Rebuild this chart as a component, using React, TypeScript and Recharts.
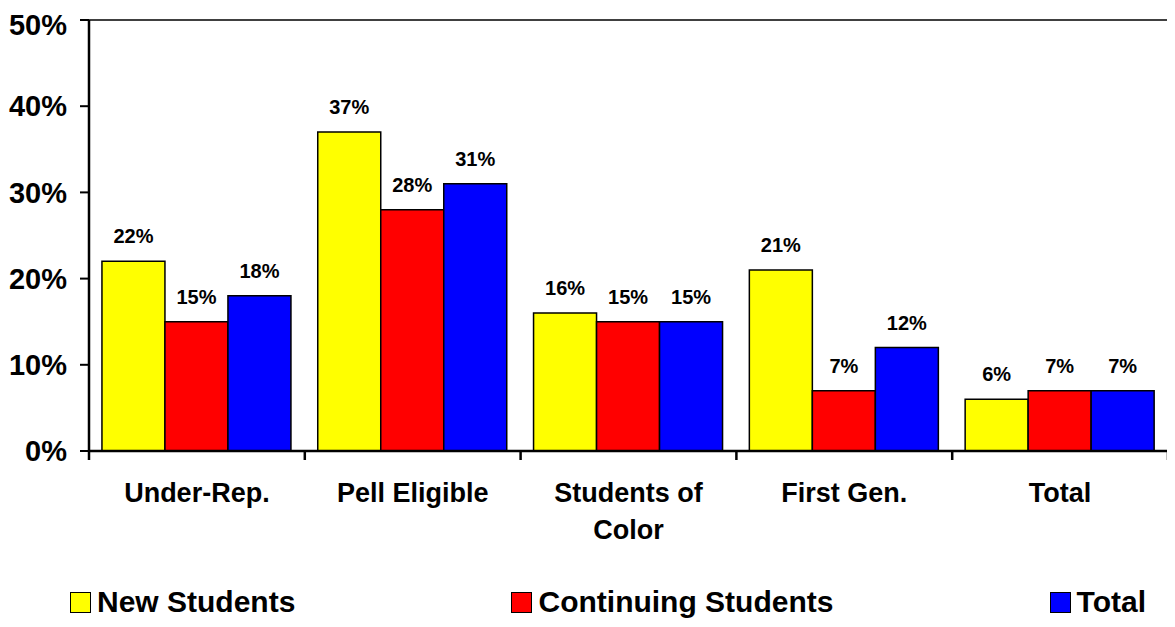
import React from "react";
import { Bar, BarChart, CartesianGrid, LabelList, XAxis, YAxis } from "recharts";

const categories = ["Under-Rep.", "Pell Eligible", "Students of Color", "First Gen.", "Total"];
const newStudents = [22, 37, 16, 21, 6];
const continuingStudents = [15, 28, 15, 7, 7];
const totalStudents = [18, 31, 15, 12, 7];
const yTicks = [0, 10, 20, 30, 40, 50];

const seriesNames = ["New Students", "Continuing Students", "Total"];
const seriesColors = ["#ffff00", "#ff0000", "#0000ff"];

const data = categories.map((name, i) => ({
  name,
  newS: newStudents[i],
  cont: continuingStudents[i],
  tot: totalStudents[i],
}));

const FONT = "'Liberation Sans', Arial, Helvetica, sans-serif";

function wrap(label: string, max = 14): string[] {
  const lines: string[] = [];
  let cur = "";
  for (const w of label.split(" ")) {
    const next = cur ? cur + " " + w : w;
    if (next.length > max && cur) {
      lines.push(cur);
      cur = w;
    } else cur = next;
  }
  if (cur) lines.push(cur);
  return lines;
}

function CategoryTick(props: any) {
  const { x, y, payload, width, visibleTicksCount, index } = props;
  const half = width / visibleTicksCount / 2;
  const lines = wrap(String(payload.value));
  const isLast = index === visibleTicksCount - 1;
  return (
    <g>
      <line x1={x - half} x2={x - half} y1={y} y2={y + 9} stroke="#000" strokeWidth={2.5} />
      {isLast && <line x1={x + half} x2={x + half} y1={y} y2={y + 9} stroke="#000" strokeWidth={2.5} />}
      <text x={x} y={y + 51} textAnchor="middle" fontFamily={FONT} fontWeight="bold" fontSize={27} fill="#000">
        {lines.map((l, i) => (
          <tspan key={i} x={x} dy={i === 0 ? 0 : 37}>{l}</tspan>
        ))}
      </text>
    </g>
  );
}

const labelStyle = { fontFamily: FONT, fontWeight: "bold" as const, fontSize: 20, fill: "#000" };

export default function App() {
  return (
    <div style={{ position: "relative", width: 1163, height: 611, background: "#fff" }}>
      <BarChart
        width={1163}
        height={540}
        data={data}
        margin={{ top: 12, right: 3, left: 0, bottom: 0 }}
        barCategoryGap="6%"
        barGap={0}
      >
        <CartesianGrid vertical={false} stroke="#000" strokeWidth={1.5} />
        <XAxis
          dataKey="name"
          height={97}
          tickSize={0}
          tickMargin={0}
          tickLine={false}
          interval={0}
          axisLine={{ stroke: "#000", strokeWidth: 2.5 }}
          tick={<CategoryTick />}
        />
        <YAxis
          yAxisId="left"
          width={81}
          domain={[0, 50]}
          ticks={yTicks}
          tickFormatter={(v: number) => `${v}%`}
          tickSize={9}
          tickMargin={13}
          axisLine={{ stroke: "#000", strokeWidth: 2.5 }}
          tickLine={{ stroke: "#000", strokeWidth: 2 }}
          tick={{ fontFamily: FONT, fontWeight: "bold", fontSize: 29, fill: "#000" }}
        />
        <YAxis
          yAxisId="right"
          orientation="right"
          width={0}
          domain={[0, 50]}
          tick={false}
          tickLine={false}
          axisLine={{ stroke: "#000", strokeWidth: 2.5 }}
        />
        {["newS", "cont", "tot"].map((key, i) => (
          <Bar
            key={key}
            yAxisId="left"
            dataKey={key}
            name={seriesNames[i]}
            fill={seriesColors[i]}
            stroke="#000"
            strokeWidth={1.5}
            isAnimationActive={false}
          >
            <LabelList dataKey={key} position="top" offset={18} formatter={(v: any) => `${v}%`} style={labelStyle} />
          </Bar>
        ))}
      </BarChart>
      <div
        style={{
          position: "absolute",
          left: 62,
          width: 1076,
          top: 580,
          height: 28,
          display: "flex",
          justifyContent: "space-between",
          alignItems: "center",
          fontFamily: FONT,
          fontWeight: "bold",
          fontSize: 30,
          lineHeight: "28px",
          color: "#000",
        }}
      >
        {seriesNames.map((n, i) => (
          <div key={n} style={{ display: "flex", alignItems: "center" }}>
            <span
              style={{
                display: "inline-block",
                width: 19,
                height: 19,
                background: seriesColors[i],
                border: "1.5px solid #000",
                marginRight: 6,
              }}
            />
            <span>{n}</span>
          </div>
        ))}
      </div>
    </div>
  );
}
